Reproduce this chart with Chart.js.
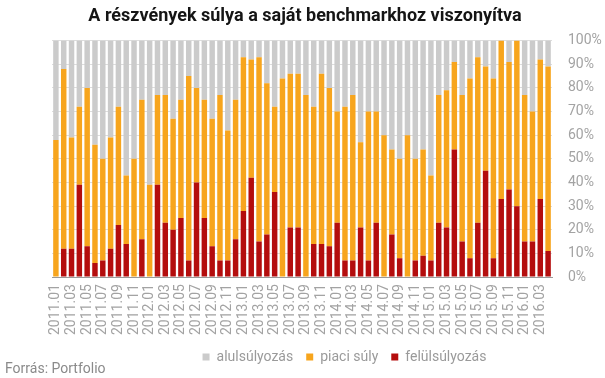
<!DOCTYPE html>
<html>
<head>
<meta charset="utf-8">
<script src="https://cdn.jsdelivr.net/npm/chart.js@4"></script>
<style>
  html, body { margin: 0; padding: 0; background: #fff; }
  #wrap { position: relative; width: 605px; height: 378px; }
  #source {
    position: absolute; left: 5px; top: 359px;
    font: 14px Roboto, "Noto Sans", sans-serif; line-height: 18px;
    color: #8a8a8a;
  }
</style>
</head>
<body>
<div id="wrap">
  <canvas id="weights" width="605" height="378"></canvas>
  <div id="source">Forrás: Portfolio</div>
</div>
<script>
// Data

let months = [
  "2011.01","2011.02","2011.03","2011.04","2011.05","2011.06","2011.07","2011.08","2011.09","2011.10","2011.11","2011.12",
  "2012.01","2012.02","2012.03","2012.04","2012.05","2012.06","2012.07","2012.08","2012.09","2012.10","2012.11","2012.12",
  "2013.01","2013.02","2013.03","2013.04","2013.05","2013.06","2013.07","2013.08","2013.09","2013.10","2013.11","2013.12",
  "2014.01","2014.02","2014.03","2014.04","2014.05","2014.06","2014.07","2014.08","2014.09","2014.10","2014.11","2014.12",
  "2015.01","2015.02","2015.03","2015.04","2015.05","2015.06","2015.07","2015.08","2015.09","2015.10","2015.11","2015.12",
  "2016.01","2016.02","2016.03","2016.04"
];

// felülsúlyozás (bottom, red)
let overweight = [
  0, 12, 12, 39, 13, 6, 7, 12, 22, 14, 0, 16,
  0, 39, 23, 20, 25, 7, 40, 25, 13, 7, 7, 16,
  28, 42, 15, 18, 36, 0, 21, 21, 0, 14, 14, 13,
  23, 7, 7, 21, 7, 23, 0, 18, 8, 0, 7, 9,
  7, 23, 21, 54, 15, 8, 23, 45, 8, 33, 37, 30,
  15, 15, 33, 11
];

// piaci súly (middle, orange)
let marketWeight = [
  58, 76, 47, 33, 67, 50, 43, 47, 50, 29, 50, 59,
  39, 38, 54, 47, 50, 78, 40, 50, 54, 70, 55, 59,
  65, 50, 78, 64, 36, 84, 65, 65, 77, 58, 72, 67,
  47, 65, 70, 36, 63, 47, 60, 36, 42, 60, 43, 45,
  36, 54, 58, 37, 62, 76, 70, 44, 76, 67, 54, 70,
  62, 55, 59, 78
];

// alulsúlyozás (top, grey)
let underweight = [
  42, 12, 41, 28, 20, 44, 50, 41, 28, 57, 50, 25,
  61, 23, 23, 33, 25, 15, 20, 25, 33, 23, 38, 25,
  7, 8, 7, 18, 28, 16, 14, 14, 23, 28, 14, 20,
  30, 28, 23, 43, 30, 30, 40, 46, 50, 40, 50, 46,
  57, 23, 21, 9, 23, 16, 7, 11, 16, 0, 9, 0,
  23, 30, 8, 11
];

let yTicks = [0, 10, 20, 30, 40, 50, 60, 70, 80, 90, 100];

let ctx = document.getElementById("weights").getContext("2d");

Chart.defaults.font.family = "Roboto, 'Noto Sans', sans-serif";
Chart.defaults.color = "#a3a3a3";

// title is centred on the canvas, legend sits a bit right of centre
const boxShift = {
    id: "boxShift",
    afterLayout(chart) {
        chart.legend.left += 16;
        chart.legend.right += 16;
        chart.titleBlock.left -= 47;
    }
};

let weightsChart = new Chart(ctx, {
    type: "bar",
    data: {
        labels: months,
        datasets: [
            {
                label: "alulsúlyozás",
                data: underweight,
                backgroundColor: "#cbcbcb",
                order: 3,
                stack: "s"
            },
            {
                label: "piaci súly",
                data: marketWeight,
                backgroundColor: "#f7a51d",
                order: 2,
                stack: "s"
            },
            {
                label: "felülsúlyozás",
                data: overweight,
                backgroundColor: "#b40d0d",
                order: 1,
                stack: "s"
            }
        ]
    },
    options: {
        responsive: false,
        animation: false,
        layout: {
            padding: { left: 52, right: 0, top: 0, bottom: 4 }
        },
        datasets: {
            bar: {
                barPercentage: 0.7,
                categoryPercentage: 1.0,
                borderWidth: 0
            }
        },
        scales: {
            x: {
                stacked: true,
                afterFit: function (axis) {
                    axis.height -= 5;
                },
                grid: { display: false, drawTicks: false },
                border: { display: true, color: "#9a9a9a", width: 1 },
                ticks: {
                    autoSkip: false,
                    minRotation: 90,
                    maxRotation: 90,
                    padding: 7,
                    font: { size: 14 },
                    color: "#a3a3a3",
                    callback: function (value, index) {
                        return index % 2 === 0 ? months[index] : "";
                    }
                }
            },
            y: {
                stacked: true,
                position: "right",
                min: 0,
                max: 100,
                afterBuildTicks: function (axis) {
                    axis.ticks = yTicks.map(v => ({ value: v }));
                },
                afterFit: function (axis) {
                    axis.width = 53;
                },
                grid: {
                    color: "#dddddd",
                    lineWidth: 1,
                    drawTicks: false
                },
                border: { display: false },
                ticks: {
                    padding: 16,
                    font: { size: 14 },
                    color: "#a3a3a3",
                    callback: v => v + "%"
                }
            }
        },
        plugins: {
            title: {
                display: true,
                text: "A részvények súlya a saját benchmarkhoz viszonyítva",
                color: "#151515",
                font: { size: 18, weight: "bold" },
                padding: { top: 6, bottom: 13 }
            },
            legend: {
                position: "bottom",
                reverse: true,
                labels: {
                    usePointStyle: true,
                    pointStyle: "rect",
                    boxWidth: 7,
                    boxHeight: 7,
                    padding: 13,
                    color: "#9a9a9a",
                    font: { size: 14 }
                }
            },
            tooltip: { enabled: false }
        }
    },
    plugins: [boxShift]
});
</script>
</body>
</html>
